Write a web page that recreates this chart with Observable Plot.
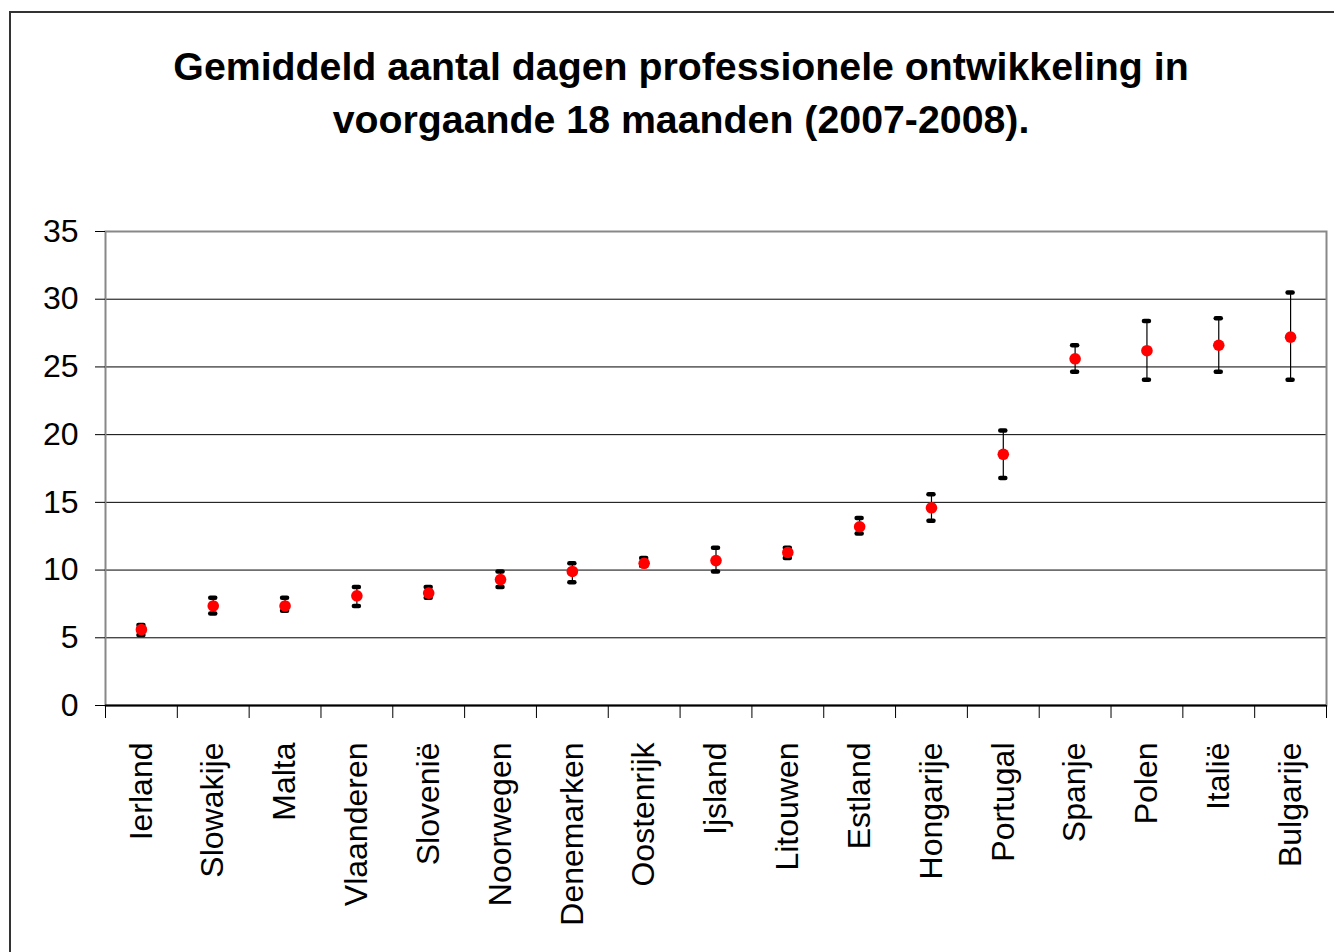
<!DOCTYPE html>
<html>
<head>
<meta charset="utf-8">
<script src="https://cdn.jsdelivr.net/npm/d3@7"></script>
<script src="https://cdn.jsdelivr.net/npm/@observablehq/plot@0.6"></script>
<style>
  html, body { margin: 0; padding: 0; background: #fff; }
  #wrap { position: relative; width: 1334px; height: 952px; overflow: hidden; font-family: "Liberation Sans", Arial, sans-serif; }
  #border { position: absolute; left: 9px; top: 11px; width: 1400px; height: 1000px; border-left: 2px solid #333; border-top: 2px solid #333; box-sizing: border-box; }
  #title { position: absolute; left: 9px; top: 40px; width: 1344px; text-align: center; font-weight: bold; font-size: 39.3px; line-height: 53px; color: #000; }
  #chart { position: absolute; left: 0; top: 200px; }
</style>
</head>
<body>
<div id="wrap">
  <div id="border"></div>
  <div id="title">Gemiddeld aantal dagen professionele ontwikkeling in<br>voorgaande 18 maanden (2007-2008).</div>
  <div id="chart"></div>
</div>
<script>
const countries = ["Ierland","Slowakije","Malta","Vlaanderen","Slovenië","Noorwegen","Denemarken","Oostenrijk","Ijsland","Litouwen","Estland","Hongarije","Portugal","Spanje","Polen","Italië","Bulgarije"];
const means = [5.6, 7.35, 7.35, 8.1, 8.3, 9.3, 9.9, 10.5, 10.7, 11.3, 13.2, 14.6, 18.55, 25.6, 26.2, 26.6, 27.2];
const lows  = [5.2, 6.8, 7.0, 7.35, 7.95, 8.75, 9.1, 10.3, 9.9, 10.9, 12.7, 13.65, 16.8, 24.65, 24.05, 24.65, 24.05];
const highs = [5.95, 7.95, 7.95, 8.75, 8.75, 9.9, 10.5, 10.9, 11.65, 11.65, 13.85, 15.6, 20.3, 26.6, 28.4, 28.6, 30.5];
const yTicks = [0, 5, 10, 15, 20, 25, 30, 35];
const gridLines = [5, 10, 15, 20, 25, 30];

const data = countries.map((c, i) => ({country: c, mean: means[i], lo: lows[i], hi: highs[i]}));

const W = 1334, H = 752;
const mL = 105, mR = 8, mT = 31, mB = 247;
const band = (W - mL - mR) / countries.length;

const plot = Plot.plot({
  width: W,
  height: H,
  marginLeft: mL,
  marginRight: mR,
  marginTop: mT,
  marginBottom: mB,
  style: {fontFamily: "'Liberation Sans', Arial, sans-serif", fontSize: "32px", color: "#000", background: "transparent"},
  x: {type: "band", domain: countries, padding: 0, round: false, axis: null, label: null},
  y: {domain: [0, 35], axis: null, label: null},
  marks: [
    Plot.ruleY(gridLines, {stroke: "#000", strokeWidth: 1}),
    Plot.frame({stroke: "#888", strokeWidth: 2}),
    Plot.ruleY([0], {stroke: "#000", strokeWidth: 2}),
    Plot.axisY(yTicks, {tickSize: 10, tickPadding: 17, fontSize: 32, stroke: "#000", label: null}),
    Plot.axisX(countries, {tickSize: 13, text: null, dx: -band / 2, stroke: "#000", label: null}),
    Plot.axisX(countries.slice(-1), {tickSize: 13, text: null, dx: band / 2, stroke: "#000", label: null}),
    Plot.text(countries, {x: d => d, y: () => 0, text: d => d, rotate: -90, textAnchor: "end", lineAnchor: "middle", dy: 37, fontSize: 32, fill: "#000"}),
    Plot.ruleX(data, {x: "country", y1: "lo", y2: "hi", stroke: "#000", strokeWidth: 1.2}),
    Plot.tickY(data, {x: "country", y: "hi", stroke: "#000", strokeWidth: 4.5, inset: (band - 5) / 2, strokeLinecap: "round"}),
    Plot.tickY(data, {x: "country", y: "lo", stroke: "#000", strokeWidth: 4.5, inset: (band - 5) / 2, strokeLinecap: "round"}),
    Plot.dot(data, {x: "country", y: "mean", r: 5.8, fill: "#ff0000", stroke: "none"})
  ]
});
document.getElementById("chart").appendChild(plot);
</script>
</body>
</html>
